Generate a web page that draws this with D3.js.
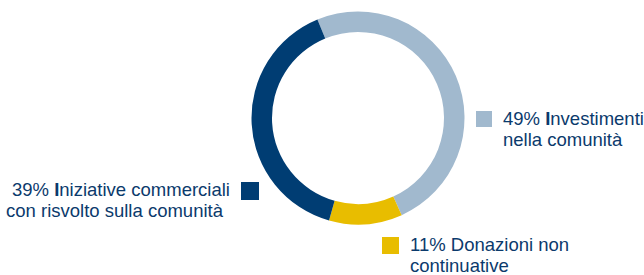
<!DOCTYPE html>
<html>
<head>
<meta charset="utf-8">
<script src="https://cdn.jsdelivr.net/npm/d3@7"></script>
<style>
  body { margin: 0; background: #fff; }
  svg { display: block; }
</style>
</head>
<body>
<div id="visContainer"></div>
<script>
'use strict';

// chart data
var shares = [49, 11, 39];
var pcts = ['49%', '11%', '39%'];
var firstWords = ['Investimenti', 'Donazioni non', 'Iniziative commerciali'];
var secondLines = ['nella comunità', 'continuative', 'con risvolto sulla comunità'];
var colors = ['#a1b9ce', '#e8bd00', '#003d73'];

var width = 644, height = 275;
var textColor = '#0b3a6c';

var svg = d3.select('#visContainer')
    .append('svg')
    .attr('width', width)
    .attr('height', height);

// donut
var cx = 358, cy = 118;
var pie = d3.pie()
    .sort(null)
    .startAngle(-22.4 * Math.PI / 180)
    .endAngle((360 - 22.4) * Math.PI / 180);

var arc = d3.arc()
    .innerRadius(86)
    .outerRadius(106.5);

svg.append('g')
    .attr('transform', 'translate(' + cx + ',' + cy + ')')
    .selectAll('path')
    .data(pie(shares))
    .enter()
    .append('path')
    .attr('d', arc)
    .style('fill', function(d, i) { return colors[i]; });

// legend: box position, text x for each line, first baseline
var legendPos = [
    { bx: 476, by: 111, size: 16, tx1: 503, tx2: 503, y: 125 },
    { bx: 382, by: 237, size: 17, tx1: 410, tx2: 410, y: 251 },
    { bx: 241, by: 182, size: 18, tx1: 12, tx2: 6, y: 196 }
];
var lineGap = 21;

var legend = svg.append('g')
    .selectAll('g')
    .data(shares)
    .enter()
    .append('g');

legend.append('rect')
    .attr('x', function(d, i) { return legendPos[i].bx; })
    .attr('y', function(d, i) { return legendPos[i].by; })
    .attr('width', function(d, i) { return legendPos[i].size; })
    .attr('height', function(d, i) { return legendPos[i].size; })
    .style('fill', function(d, i) { return colors[i]; });

var label = legend.append('text')
    .style('font-family', '"Liberation Sans", Arial, sans-serif')
    .style('font-size', '18.5px')
    .style('fill', textColor);

label.append('tspan')
    .attr('x', function(d, i) { return legendPos[i].tx1; })
    .attr('y', function(d, i) { return legendPos[i].y; })
    .text(function(d, i) { return pcts[i] + ' '; });

// the first letter of the name is drawn bold in the original
label.append('tspan')
    .style('font-weight', function(d, i) { return firstWords[i][0] === 'I' ? 'bold' : 'normal'; })
    .text(function(d, i) { return firstWords[i][0]; });

label.append('tspan')
    .text(function(d, i) { return firstWords[i].slice(1); });

label.append('tspan')
    .attr('x', function(d, i) { return legendPos[i].tx2; })
    .attr('y', function(d, i) { return legendPos[i].y + lineGap; })
    .text(function(d, i) { return secondLines[i]; });
</script>
</body>
</html>
